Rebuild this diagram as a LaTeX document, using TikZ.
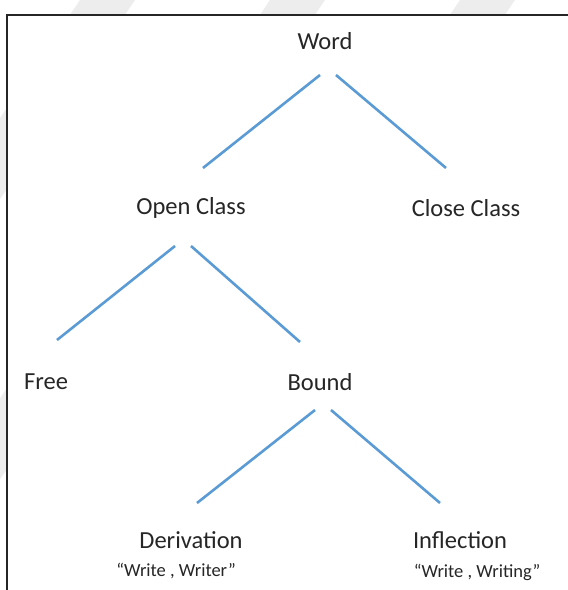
\documentclass[tikz,border=0pt]{standalone}
\usepackage{fontspec}
\setmainfont{Carlito}
\definecolor{branchblue}{HTML}{5B9BD5}
\definecolor{bandgray}{HTML}{EDEDED}
\begin{document}
\begin{tikzpicture}[x=1pt,y=-1pt,
  term/.style={inner sep=0pt, font=\fontsize{24.5}{28}\selectfont, text=black!85},
  example/.style={inner sep=0pt, font=\fontsize{18.5}{22}\selectfont, text=black!85},
  branch/.style={draw=branchblue, line width=2.6pt}]
\useasboundingbox (0,0) rectangle (568,590);
% faint diagonal bands behind the panel
\begin{scope}
  \clip (0,0) rectangle (568,15) (0,0) rectangle (7,590);
  \foreach \s in {-120,80,270,460,650} {
    \fill[bandgray] (\s,0) -- (\s+55,0) -- (\s-345,590) -- (\s-400,590) -- cycle;
  }
\end{scope}
% white panel with its frame
\fill[white] (7,15) rectangle (568,590);
\draw[line width=2.4pt, black!85] (7,592) -- (7,15) -- (570,15);

% terms
\node[term] (word)   at (325,41)  {Word};
\node[term] (open)   at (191,208) {Open Class};
\node[term] (close)  at (466,208) {Close Class};
\node[term] (free)   at (46,382)  {Free};
\node[term] (bound)  at (320,382) {Bound};
\node[term] (deriv)  at (191,540) {Derivation};
\node[term] (infl)   at (460,540) {Inflection};
\node[example] (exd) at (176,571) {“Write , Writer”};
\node[example] (exi) at (477,572) {“Write , Writing”};

% branch end points
\coordinate (w1) at (320,75);  \coordinate (w2) at (336,75);
\coordinate (o1) at (175,246); \coordinate (o2) at (191,246);
\coordinate (b1) at (315,410); \coordinate (b2) at (331,410);
\coordinate (t1) at (203,168); \coordinate (t2) at (446,168);
\coordinate (t3) at (57,340);  \coordinate (t4) at (300,342);
\coordinate (t5) at (197,503); \coordinate (t6) at (440,503);

\draw[branch] (w1) -- (t1);
\draw[branch] (w2) -- (t2);
\draw[branch] (o1) -- (t3);
\draw[branch] (o2) -- (t4);
\draw[branch] (b1) -- (t5);
\draw[branch] (b2) -- (t6);
\end{tikzpicture}
\end{document}
